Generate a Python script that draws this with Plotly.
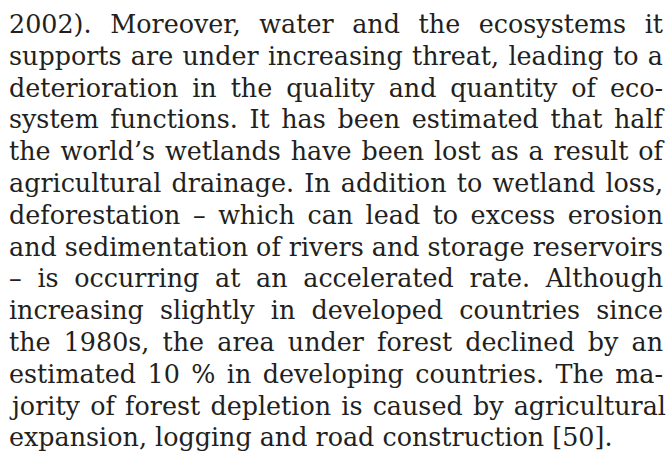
import plotly.graph_objects as go

lines = [
    "2002). Moreover, water and the ecosystems it",
    "supports are under increasing threat, leading to a",
    "deterioration in the quality and quantity of eco-",
    "system functions. It has been estimated that half",
    "the world\u2019s wetlands have been lost as a result of",
    "agricultural drainage. In addition to wetland loss,",
    "deforestation \u2013 which can lead to excess erosion",
    "and sedimentation of rivers and storage reservoirs",
    "\u2013 is occurring at an accelerated rate. Although",
    "increasing slightly in developed countries since",
    "the 1980s, the area under forest declined by an",
    "estimated 10 % in developing countries. The ma-",
    "jority of forest depletion is caused by agricultural",
    "expansion, logging and road construction [50].",
]

W, H = 670, 453
LEFT = 9
RIGHT = 663
FIRST_BASELINE = 32
LINE_STEP = 31.8
FONT_SIZE = 25.4
COLOR = "#231f20"

fig = go.Figure()
for i, t in enumerate(lines):
    fig.add_annotation(
        x=LEFT, y=FIRST_BASELINE + i * LINE_STEP, xref="x", yref="y",
        text=t, showarrow=False, xanchor="left", yanchor="bottom",
        yshift=-8, align="left", borderpad=0,
        font=dict(family="DejaVu Serif", size=FONT_SIZE, color=COLOR),
    )

fig.update_layout(
    width=W, height=H, margin=dict(l=0, r=0, t=0, b=0),
    paper_bgcolor="white", plot_bgcolor="white", showlegend=False,
    xaxis=dict(range=[0, W], visible=False, fixedrange=True),
    yaxis=dict(range=[H, 0], visible=False, fixedrange=True),
)

js = """
document.body.style.margin = '0';
document.body.style.padding = '0';
document.body.style.overflow = 'hidden';
var gd = document.getElementById('{plot_id}');
var els = gd.querySelectorAll('.annotation-text');
var left = %d, right = %d;
var base = gd.getBoundingClientRect();
for (var i = 0; i < els.length; i++) {
  var el = els[i];
  var txt = el.textContent;
  var n = (txt.match(/ /g) || []).length;
  if (i < els.length - 1 && n) {
    var w = el.getComputedTextLength();
    el.style.wordSpacing = ((right - left - w) / n) + 'px';
  }
  var r = el.getBoundingClientRect();
  var dx = left - (r.left - base.left);
  var tr = el.getAttribute('transform') || '';
  el.setAttribute('transform', tr + ' translate(' + dx + ',0)');
}
""" % (LEFT, RIGHT)

fig.write_html("out.html", post_script=js, config={"staticPlot": True})
